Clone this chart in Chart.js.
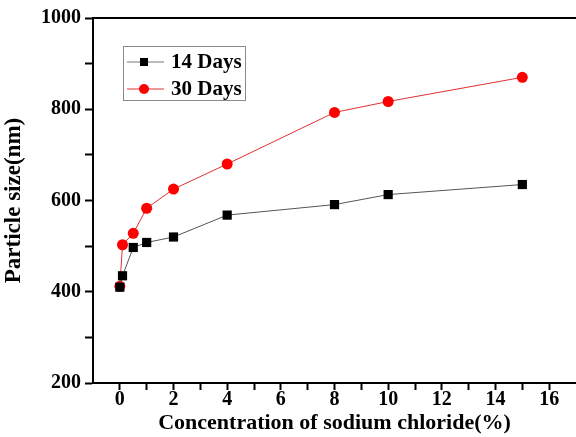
<!DOCTYPE html>
<html>
<head>
<meta charset="utf-8">
<script src="https://cdn.jsdelivr.net/npm/chart.js@4.4.0/dist/chart.umd.min.js"></script>
<style>
  html, body { margin: 0; padding: 0; background: #fff; }
  #wrap { width: 576px; height: 437px; }
</style>
</head>
<body>
<div id="wrap"><canvas id="grafico"></canvas></div>
<script>
// concentracao de NaCl (%)
var concentracao = [0, 0.1, 0.5, 1, 2, 4, 8, 10, 15];
var dias14 = [410, 435, 497, 508, 520, 568, 591, 613, 635];
var dias30 = [412, 503, 528, 583, 625, 680, 793, 817, 870];
var rotulosX = [0, 2, 4, 6, 8, 10, 12, 14, 16];
var rotulosY = [200, 400, 600, 800, 1000];
var nomesSeries = ['14 Days', '30 Days'];

var fonte = '"Liberation Serif", "Times New Roman", serif';

function pontos(valores) {
	return concentracao.map(function(x, i) { return { x: x, y: valores[i] }; });
}

// linha de cima + legenda dentro do grafico
var molduraLegenda = {
	id: 'molduraLegenda',
	afterDraw: function(chart) {
		var ctx = chart.ctx;
		var area = chart.chartArea;
		ctx.save();
		ctx.strokeStyle = '#000';
		ctx.lineWidth = 2;
		ctx.beginPath();
		ctx.moveTo(area.left, area.top);
		ctx.lineTo(area.right, area.top);
		ctx.stroke();

		ctx.strokeStyle = '#8a8a8a';
		ctx.lineWidth = 1;
		ctx.strokeRect(123.5, 46.5, 122, 54);

		var linhas = [
			{ y: 62, cor: '#777', marcador: 'quadrado', fill: '#000' },
			{ y: 89, cor: '#e03030', marcador: 'circulo', fill: '#ff0000' }
		];
		linhas.forEach(function(l, i) {
			ctx.strokeStyle = l.cor;
			ctx.lineWidth = 1;
			ctx.beginPath();
			ctx.moveTo(127, l.y);
			ctx.lineTo(164, l.y);
			ctx.stroke();
			ctx.fillStyle = l.fill;
			if (l.marcador === 'quadrado') {
				ctx.fillRect(140, l.y - 4, 8, 8);
			} else {
				ctx.beginPath();
				ctx.arc(144, l.y, 5, 0, Math.PI * 2);
				ctx.fill();
			}
			ctx.fillStyle = '#000';
			ctx.font = 'bold 21px ' + fonte;
			ctx.textBaseline = 'middle';
			ctx.textAlign = 'left';
			ctx.fillText(nomesSeries[i], 171, l.y + 1);
		});
		ctx.restore();
	}
};

var grafico = new Chart(document.getElementById('grafico'), {
	type: 'line',
	data: {
		datasets: [{
			label: nomesSeries[0],
			data: pontos(dias14),
			borderColor: '#555',
			borderWidth: 1,
			backgroundColor: '#000',
			pointStyle: 'rect',
			pointRadius: 6.5,
			pointBorderWidth: 0,
			pointBackgroundColor: '#000'
		}, {
			label: nomesSeries[1],
			data: pontos(dias30),
			borderColor: '#e03030',
			borderWidth: 1,
			backgroundColor: '#ff0000',
			pointStyle: 'circle',
			pointRadius: 5.5,
			pointBorderWidth: 0,
			pointBackgroundColor: '#ff0000'
		}]
	},
	options: {
		responsive: true,
		maintainAspectRatio: false,
		animation: false,
		layout: { autoPadding: false, padding: { top: 18, right: 0, left: 0, bottom: 0 } },
		plugins: {
			legend: { display: false },
			tooltip: { enabled: false }
		},
		scales: {
			x: {
				type: 'linear',
				min: -1,
				max: 17,
				afterFit: function(scale) {
					scale.height = 54;
					scale.paddingRight = 0;
					scale.paddingLeft = 0;
				},
				border: { color: '#000', width: 2 },
				grid: {
					drawOnChartArea: false,
					tickLength: 7,
					tickWidth: 2,
					tickColor: function(c) {
						var v = c.tick && c.tick.value;
						return (v === -1 || v === 17) ? 'rgba(0,0,0,0)' : '#000';
					}
				},
				ticks: {
					stepSize: 1,
					autoSkip: false,
					maxRotation: 0,
					padding: -2,
					color: '#000',
					font: { family: fonte, size: 20, weight: 'bold' },
					callback: function(v) { return rotulosX.indexOf(v) >= 0 ? String(v) : ''; }
				},
				title: {
					display: true,
					text: 'Concentration of sodium chloride(%)',
					color: '#000',
					padding: { top: 0, bottom: 0 },
					font: { family: fonte, size: 22, weight: 'bold' }
				}
			},
			y: {
				min: 200,
				max: 1000,
				afterFit: function(scale) {
					scale.width = 93;
					scale.paddingTop = 0;
					scale.paddingBottom = 0;
				},
				border: { color: '#000', width: 2 },
				grid: {
					drawOnChartArea: false,
					tickLength: 8,
					tickWidth: 2,
					tickColor: '#000'
				},
				ticks: {
					stepSize: 100,
					autoSkip: false,
					padding: 4,
					color: '#000',
					font: { family: fonte, size: 20, weight: 'bold' },
					callback: function(v) { return rotulosY.indexOf(v) >= 0 ? String(v) : ''; }
				},
				title: {
					display: true,
					text: 'Particle size(nm)',
					color: '#000',
					padding: { top: 0, bottom: 0 },
					font: { family: fonte, size: 23, weight: 'bold' }
				}
			}
		}
	},
	plugins: [molduraLegenda]
});
</script>
</body>
</html>
